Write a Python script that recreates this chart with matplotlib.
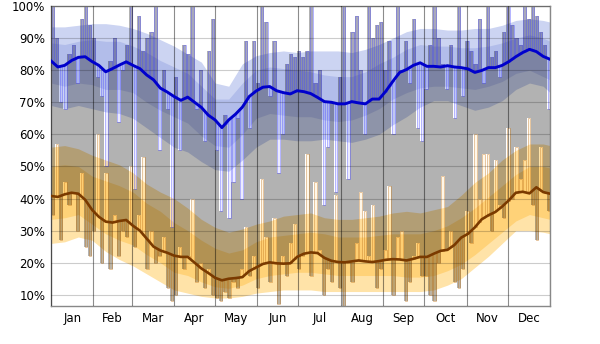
import numpy as np
import matplotlib
matplotlib.use('Agg')
import matplotlib.pyplot as plt

# mois
mois = ['Jan', 'Feb', 'Mar', 'Apr', 'May', 'Jun', 'Jul', 'Aug', 'Sep', 'Oct', 'Nov', 'Dec']
debut_mois = [0, 31, 59, 90, 120, 151, 181, 212, 243, 273, 304, 334, 365]

# moyennes (tous les 5 jours)
jours_moy = list(range(0, 366, 5))
moy_haute = [82.9, 81.0, 81.5, 83.0, 84.0, 84.2, 82.7, 81.5, 79.5, 80.5, 81.6, 82.6, 81.5, 80.5, 78.5,
             77.0, 74.4, 73.2, 71.8, 70.6, 71.6, 70.0, 68.4, 66.0, 64.5, 62.1, 64.5, 66.3, 68.5, 71.8,
             73.5, 74.7, 74.9, 73.6, 73.0, 72.6, 73.6, 73.3, 72.7, 71.5, 70.2, 70.0, 69.5, 69.5, 70.2,
             69.8, 69.5, 71.0, 71.0, 73.5, 76.5, 79.3, 80.2, 81.5, 82.3, 81.2, 81.2, 81.0, 81.4, 81.0,
             80.8, 80.4, 79.3, 79.9, 80.8, 80.8, 81.5, 82.7, 84.2, 85.5, 86.5, 85.8, 84.3, 83.4]
moy_basse = [40.8, 40.5, 41.3, 41.8, 41.5, 39.6, 36.5, 34.3, 32.8, 32.5, 33.0, 33.3, 31.5, 30.0, 27.5,
             25.0, 23.8, 23.1, 22.2, 21.8, 21.8, 20.0, 18.2, 16.8, 15.3, 14.5, 15.0, 15.2, 15.5, 17.4,
             18.5, 19.6, 20.1, 19.8, 19.7, 19.8, 21.8, 22.8, 23.2, 23.0, 21.5, 20.6, 20.2, 20.1, 20.4,
             20.7, 20.4, 20.2, 20.5, 20.9, 21.1, 21.0, 20.7, 21.2, 21.8, 21.8, 22.8, 23.7, 24.0, 25.5,
             27.8, 29.0, 31.0, 33.5, 34.8, 35.8, 37.5, 39.5, 41.8, 42.1, 41.6, 43.5, 42.0, 41.5]

# percentiles (tous les 10 jours)
jours_pct = list(range(0, 361, 10)) + [365]
haute_p90 = [93.5, 93.5, 94, 94.5, 94.5, 94, 93, 91.5, 89.5, 87.5, 85, 82.5, 76, 75, 82, 84.5, 85.5, 86, 85.5,
             86, 86, 86, 85.5, 86.5, 88, 90, 92, 93, 93, 92.5, 92.5, 93, 93, 94, 95.5, 96, 95.5, 95]
haute_p75 = [88.5, 88, 89, 89.5, 89, 89, 87.5, 85.5, 83, 81, 79, 75, 71, 71, 76, 80, 81, 80.5, 80,
             79.5, 78.5, 78, 78, 79.5, 82, 84, 86.5, 88, 87.5, 87.5, 87, 87, 87.5, 88.5, 90, 91, 90, 89]
haute_p25 = [76, 75, 76, 75.5, 74, 74, 73, 70, 67.5, 65.5, 63.5, 59.5, 56.5, 56, 60, 65, 66.5, 66, 65.5,
             65.5, 64.5, 64, 64.5, 66, 68, 71, 73, 74.5, 75, 75, 74.5, 74, 75, 76.5, 79, 80, 78, 77]
haute_p10 = [69, 68, 69, 68, 67, 66.5, 65, 62, 59, 56, 54.5, 51.5, 49, 48.5, 52, 56, 58.5, 58.5, 58,
             58, 58.5, 58, 57.5, 58.5, 60, 63, 65.5, 68.5, 70.5, 70.5, 69, 67.5, 68.5, 70.5, 74, 76, 75, 73]
basse_p90 = [56, 56.5, 55.5, 53.5, 52, 50.5, 48, 44.5, 42, 40, 37, 33.5, 31, 29.5, 30.5, 32, 33, 34.5, 35,
             35.5, 34, 33.5, 33.5, 34, 34.5, 35.5, 36, 35.5, 36.5, 37.5, 41, 45, 48, 52, 55, 57, 57, 56.5]
basse_p75 = [50, 50.5, 50, 47, 45.5, 44, 42, 38.5, 36, 32.5, 30, 27, 24.5, 23, 24, 26.5, 28, 28.5, 29,
             29.5, 29, 28, 28, 28, 28.5, 29, 29, 29, 30, 31.5, 34, 37, 40.5, 44, 47.5, 50, 50, 49.5]
basse_p25 = [33.5, 34, 35, 32, 29, 27, 25.5, 22.5, 20, 17, 16, 14, 12.5, 12, 13, 15, 16, 16.5, 17,
             17, 16.5, 16, 16, 16, 16, 16, 15.5, 15.5, 16, 17.5, 19.5, 22.5, 26, 29.5, 33, 35, 34, 33.5]
basse_p10 = [26, 26.5, 28, 27, 23.5, 21, 19, 16.5, 14, 11.5, 10.5, 9.5, 9, 9, 9.5, 10.5, 11, 11.5, 11.5,
             11.5, 11, 11, 11, 11, 11, 11, 11, 11, 11.5, 13, 15, 18.5, 22, 26, 30, 30, 29.5, 29]

# valeurs de l'annee (par tranches de 3 jours)
jours_an = list(range(0, 364, 3))
haute_an = [100, 90, 70, 68, 85, 88, 76, 96, 100, 94, 90, 78, 72, 50, 83, 90, 64, 80, 88, 100, 43, 97, 86,
            90, 92, 100, 55, 80, 68, 31, 78,
            55, 88, 85, 100, 68, 80, 58, 86, 96, 55, 36, 66, 34, 45, 65, 40, 89, 62, 89, 76, 100, 95, 72,
            89, 48, 60, 82, 85, 84, 86,
            84, 86, 100, 76, 80, 38, 56, 70, 42, 78, 100, 46, 92, 97, 80, 60, 100, 90, 94, 95, 80, 89, 60,
            100, 80, 89, 76, 96, 62, 58,
            74, 88, 100, 90, 82, 74, 88, 65, 100, 72, 89, 86, 82, 96, 76, 100, 84, 86, 78, 92, 100, 94, 90,
            88, 100, 96, 100, 97, 92, 88, 68]
basse_an = [35, 57, 27, 45, 38, 42, 30, 48, 25, 22, 30, 60, 20, 48, 18, 35, 22, 30, 28, 50, 25, 35, 53,
            18, 30, 20, 22, 28, 12, 8, 10,
            25, 18, 22, 40, 14, 20, 12, 18, 10, 9, 8, 11, 9, 14, 12, 18, 31, 16, 22, 12, 46, 28, 14, 34,
            7, 22, 16, 26, 32, 18,
            22, 54, 16, 45, 24, 10, 18, 14, 41, 12, 6, 20, 14, 26, 42, 36, 22, 38, 12, 18, 24, 44, 10, 28,
            30, 8, 14, 22, 26, 16,
            16, 10, 8, 20, 47, 24, 30, 14, 12, 18, 36, 26, 60, 40, 54, 54, 30, 52, 38, 34, 62, 40, 56, 46,
            52, 65, 38, 27, 56, 42, 36]

fig = plt.figure(figsize=(6.0, 3.44), dpi=100)
ax = fig.add_axes([0.085, 0.1105, 0.8317, 0.872])

# bandes
ax.fill_between(jours_pct, haute_p10, haute_p90, color='#ccd4f2', lw=0, zorder=1)
ax.fill_between(jours_pct, haute_p25, haute_p75, color='#b2bdea', lw=0, zorder=1.05)
ax.fill_between(jours_pct, basse_p10, basse_p90, color='#ffe3a8', lw=0, zorder=1)
ax.fill_between(jours_pct, basse_p25, basse_p75, color='#ffd278', lw=0, zorder=1.05)

# zone grise entre basse et haute du jour
x_esc = jours_an + [jours_an[-1] + 3]
ax.fill_between(x_esc, basse_an + [basse_an[-1]], haute_an + [haute_an[-1]], step='post',
                color='black', alpha=0.3, lw=0, zorder=1.2)

# barres par rapport aux moyennes
x_bar = np.array(jours_an) + 0.6
base_h = np.interp(x_bar + 0.9, jours_moy, moy_haute)
base_b = np.interp(x_bar + 0.9, jours_moy, moy_basse)
ax.bar(x_bar, np.array(haute_an) - base_h, bottom=base_h, width=1.8, align='edge',
       facecolor=(0.4, 0.4, 1.0, 0.12), edgecolor=(0.3, 0.3, 1.0, 0.45), linewidth=0.6, zorder=1.5)
ax.bar(x_bar, np.array(basse_an) - base_b, bottom=base_b, width=1.8, align='edge',
       facecolor=(1.0, 0.75, 0.3, 0.12), edgecolor=(0.75, 0.45, 0.1, 0.45), linewidth=0.6, zorder=1.5)

# lignes moyennes
ax.plot(jours_moy, moy_haute, color='#0000cc', lw=2.1, zorder=3, solid_joinstyle='round')
ax.plot(jours_moy, moy_basse, color='#7a3a00', lw=1.9, zorder=3, solid_joinstyle='round')

ax.set_xlim(0, 365)
ax.set_ylim(6.5, 100)

ax.set_yticks(range(10, 101, 10))
ax.set_yticklabels([str(v) + '%' for v in range(10, 101, 10)])
ax.set_xticks(debut_mois)
ax.set_xticklabels([])
ax.set_xticks([(debut_mois[i] + debut_mois[i + 1]) / 2 for i in range(12)], minor=True)
ax.set_xticklabels(mois, minor=True)
ax.tick_params(which='both', length=0, labelsize=8.5, colors='black')
ax.tick_params(axis='y', pad=4)
ax.tick_params(axis='x', which='minor', pad=4)

ax.set_axisbelow(False)
ax.grid(axis='y', color='black', alpha=0.2, lw=0.8)
ax.grid(axis='x', which='major', color='black', alpha=0.45, lw=0.8)

for s in ax.spines.values():
    s.set_color('#888888')
    s.set_linewidth(1)

plt.savefig('out.png', dpi=100)
